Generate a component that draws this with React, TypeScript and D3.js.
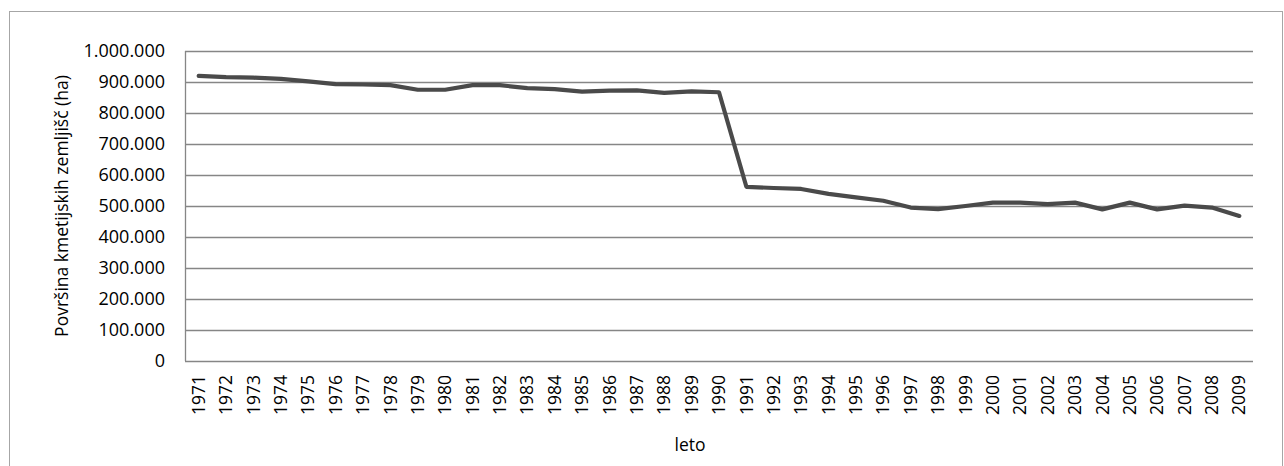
import React, { FC, useMemo } from "react";
import { scaleBand, scaleLinear, line, formatLocale } from "d3";

const years = [
  "1971", "1972", "1973", "1974", "1975", "1976", "1977", "1978", "1979", "1980",
  "1981", "1982", "1983", "1984", "1985", "1986", "1987", "1988", "1989", "1990",
  "1991", "1992", "1993", "1994", "1995", "1996", "1997", "1998", "1999", "2000",
  "2001", "2002", "2003", "2004", "2005", "2006", "2007", "2008", "2009",
];

const area = [
  920000, 916000, 914000, 910000, 902000, 893000, 892000, 890000, 875000, 875000,
  890000, 890000, 880000, 877000, 869000, 872000, 873000, 865000, 870000, 867000,
  562000, 558000, 555000, 539000, 528000, 517000, 495000, 490000, 500000, 511000,
  511000, 506000, 511000, 489000, 511000, 489000, 501000, 495000, 468000,
];

const yTicks = [0, 100000, 200000, 300000, 400000, 500000, 600000, 700000, 800000, 900000, 1000000];

const yTitle = "Površina kmetijskih zemljišč (ha)";
const xTitle = "leto";

const WIDTH = 1284;
const HEIGHT = 466;
const margin = { left: 185, right: 31, top: 51, bottom: 105 };
const FONT = "'Open Sans', sans-serif";

const fmt = formatLocale({
  decimal: ",",
  thousands: ".",
  grouping: [3],
  currency: ["", ""],
}).format(",d");

export const AreaChart: FC = () => {
  const x = useMemo(
    () =>
      scaleBand<string>()
        .domain(years)
        .range([margin.left, WIDTH - margin.right]),
    []
  );
  const y = useMemo(
    () =>
      scaleLinear()
        .domain([0, 1000000])
        .range([HEIGHT - margin.bottom, margin.top]),
    []
  );

  const path = line<number>()
    .x((_, i) => (x(years[i]) ?? 0) + x.bandwidth() / 2)
    .y((d) => y(d))(area);

  const plotBottom = y(0);

  return (
    <svg
      width={WIDTH}
      height={HEIGHT}
      style={{ position: "absolute", left: 0, top: 0, background: "#fff" }}
      fontFamily={FONT}
    >
      <rect x={9.5} y={11.5} width={1273} height={470} fill="none" stroke="#a6a6a6" />

      {yTicks.map((t) => (
        <g key={t}>
          <line
            x1={margin.left}
            x2={WIDTH - margin.right}
            y1={Math.round(y(t)) + 0.5}
            y2={Math.round(y(t)) + 0.5}
            stroke="#868686"
            strokeWidth={1.3}
          />
          <text
            x={165}
            y={y(t)}
            dy="0.35em"
            textAnchor="end"
            fontSize={18}
            fill="#000"
          >
            {fmt(t)}
          </text>
        </g>
      ))}

      <line
        x1={margin.left + 0.5}
        x2={margin.left + 0.5}
        y1={margin.top}
        y2={plotBottom}
        stroke="#868686"
        strokeWidth={1.3}
      />

      {years.map((yr) => {
        const cx = (x(yr) ?? 0) + x.bandwidth() / 2;
        return (
          <text
            key={yr}
            transform={`translate(${cx},${plotBottom + 14}) rotate(-90)`}
            textAnchor="end"
            dy="0.35em"
            fontSize={17.5}
            fill="#000"
          >
            {yr}
          </text>
        );
      })}

      <path
        d={path ?? ""}
        fill="none"
        stroke="#4a4a4a"
        strokeWidth={4.2}
        strokeLinejoin="round"
        strokeLinecap="round"
      />

      <text
        transform={`translate(62,${(margin.top + plotBottom) / 2}) rotate(-90)`}
        textAnchor="middle"
        dy="0.35em"
        fontSize={17.5}
        fill="#000"
      >
        {yTitle}
      </text>

      <text x={690} y={451} textAnchor="middle" fontSize={17.5} fill="#000">
        {xTitle}
      </text>
    </svg>
  );
};

export default function App() {
  return <AreaChart />;
}
